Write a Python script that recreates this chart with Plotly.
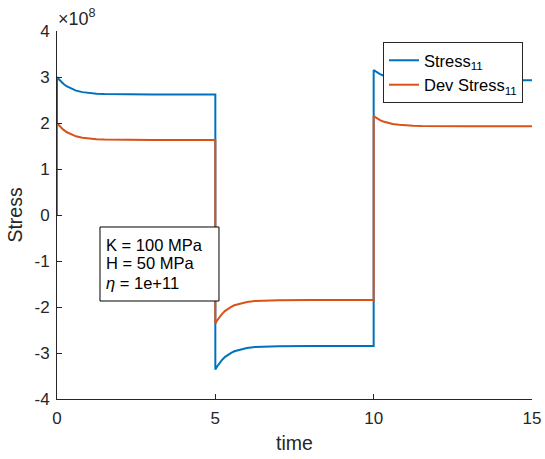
import plotly.graph_objects as go

# time samples (s)
t = [0,
     0, 0.05, 0.1, 0.2, 0.3, 0.4, 0.5, 0.6, 0.8, 1.0, 1.25, 1.5, 2, 3, 5,
     5, 5.05, 5.1, 5.2, 5.3, 5.4, 5.5, 5.6, 5.8, 6.0, 6.25, 6.5, 7, 8, 10,
     10, 10.05, 10.1, 10.2, 10.3, 10.4, 10.5, 10.6, 10.8, 11.0, 11.25, 11.5, 12, 13, 15]

# values in units of 1e8 Pa
stress11 = [0,
            3.00, 2.955, 2.916, 2.852, 2.799, 2.761, 2.730, 2.704, 2.671, 2.651, 2.637, 2.629, 2.623, 2.62, 2.62,
            -3.36, -3.299, -3.248, -3.161, -3.090, -3.039, -2.998, -2.962, -2.919, -2.892, -2.872, -2.862, -2.854, -2.85, -2.85,
            3.15, 3.124, 3.102, 3.064, 3.033, 3.011, 2.994, 2.978, 2.960, 2.948, 2.940, 2.935, 2.932, 2.93, 2.93]
dev_stress11 = [0,
                2.00, 1.956, 1.919, 1.856, 1.804, 1.767, 1.737, 1.711, 1.680, 1.660, 1.646, 1.639, 1.633, 1.63, 1.63,
                -2.36, -2.299, -2.248, -2.161, -2.090, -2.039, -1.998, -1.962, -1.919, -1.892, -1.872, -1.862, -1.854, -1.85, -1.85,
                2.15, 2.124, 2.102, 2.064, 2.033, 2.011, 1.994, 1.978, 1.960, 1.948, 1.940, 1.935, 1.932, 1.93, 1.93]

x_ticks = [0, 5, 10, 15]
y_ticks = [-4, -3, -2, -1, 0, 1, 2, 3, 4]
y_ticklabels = ["-4", "-3", "-2", "-1", "0", "1", "2", "3", "4"]
info_lines = ["K = 100 MPa", "H = 50 MPa", "<i>η</i> = 1e+11"]

FONT = "Liberation Sans, Arial, sans-serif"
AX = "#262626"

fig = go.Figure()
fig.add_trace(go.Scatter(x=t, y=stress11, mode="lines", name="Stress<sub>11</sub>",
                         line=dict(color="#0072BD", width=2)))
fig.add_trace(go.Scatter(x=t, y=dev_stress11, mode="lines", name="Dev Stress<sub>11</sub>",
                         line=dict(color="#D95319", width=2)))

annotations = [
    dict(text="×10<sup>8</sup>", x=0, y=1.0, xref="paper", yref="paper",
         xanchor="left", yanchor="bottom", showarrow=False,
         font=dict(size=18, color=AX), xshift=-1, yshift=0),
]
line_y = [0.4185, 0.3696, 0.3152]
for txt, yy in zip(info_lines, line_y):
    annotations.append(dict(text=txt, x=0.0985, y=yy, xref="paper", yref="paper",
                            xanchor="left", yanchor="middle", showarrow=False,
                            font=dict(size=16.5, color="black")))

fig.update_layout(
    width=545, height=459,
    margin=dict(l=57, r=13, t=31, b=60),
    plot_bgcolor="white", paper_bgcolor="white",
    font=dict(family=FONT, color=AX, size=17),
    showlegend=True,
    legend=dict(x=0.981, y=0.970, xanchor="right", yanchor="top",
                bordercolor=AX, borderwidth=1, bgcolor="white",
                font=dict(size=16.5, color="black"), tracegroupgap=0),
    xaxis=dict(range=[0, 15], tickvals=x_ticks, ticks="inside", ticklen=5,
               tickcolor=AX, showline=True, linecolor=AX, linewidth=1,
               showgrid=False, zeroline=False, mirror=False, automargin=False,
               ticklabelstandoff=4,
               title=dict(text="time", font=dict(size=19.5, color=AX), standoff=8),
               tickfont=dict(size=17, color=AX)),
    yaxis=dict(range=[-4, 4], tickvals=y_ticks, ticktext=y_ticklabels,
               ticks="inside", ticklen=5,
               tickcolor=AX, showline=True, linecolor=AX, linewidth=1,
               showgrid=False, zeroline=False, mirror=False, automargin=False,
               ticklabelstandoff=3,
               title=dict(text="Stress", font=dict(size=19.5, color=AX), standoff=6),
               tickfont=dict(size=17, color=AX)),
    shapes=[dict(type="rect", xref="paper", yref="paper",
                 x0=0.0905, x1=0.341, y0=0.2663, y1=0.4674,
                 line=dict(color="black", width=1), fillcolor="white", layer="above")],
    annotations=annotations,
)

fig.write_html("out.html")
